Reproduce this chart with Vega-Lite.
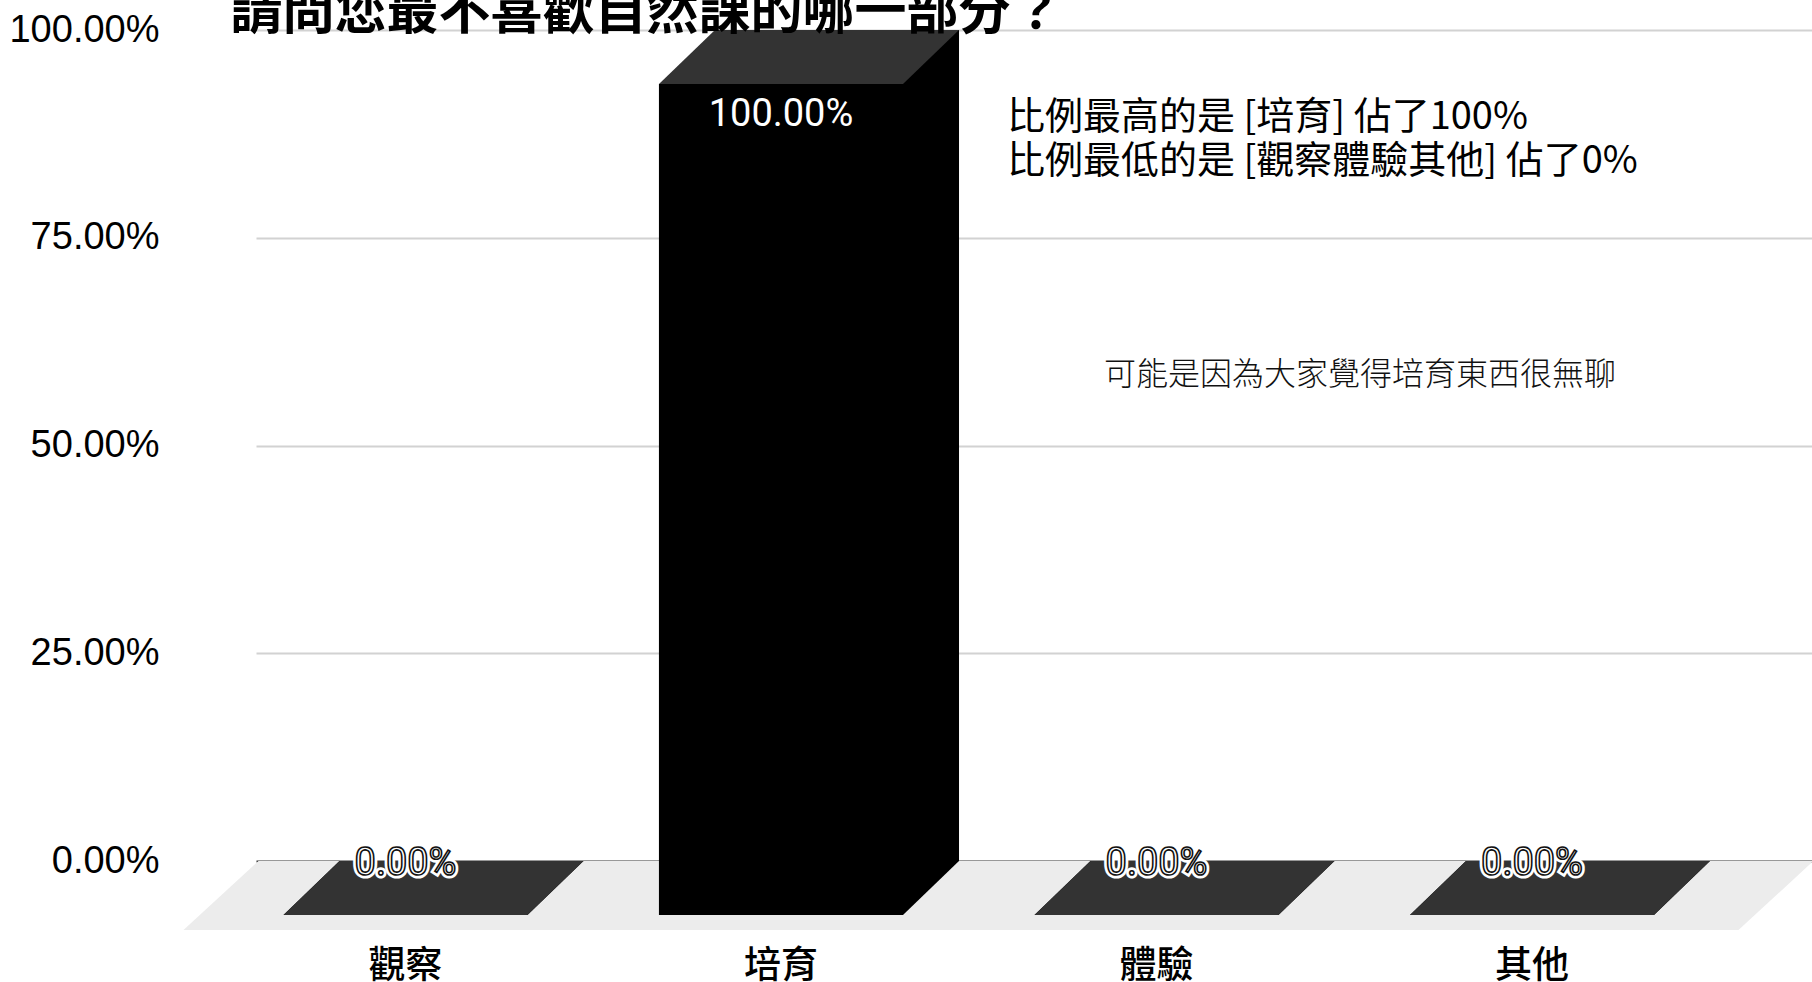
{
  "$schema": "https://vega.github.io/schema/vega-lite/v6.json",
  "width": 1556,
  "height": 831,
  "autosize": {"type": "none"},
  "padding": {"left": 256, "top": 30, "right": 0, "bottom": 121},
  "background": "white",
  "config": {"view": {"stroke": null}, "font": "Noto Sans CJK TC"},
  "datasets": {
    "bars": [
      {"cat": "觀察", "value": 0},
      {"cat": "培育", "value": 1},
      {"cat": "體驗", "value": 0},
      {"cat": "其他", "value": 0}
    ],
    "heading": [
      {"cat": "觀察", "value": 1, "note": "請問您最不喜歡自然課的哪一部分？"}
    ],
    "notes": [
      {"cat": "培育", "value": 0.894, "note": "比例最高的是 [培育] 佔了100%"},
      {"cat": "培育", "value": 0.841, "note": "比例最低的是 [觀察體驗其他] 佔了0%"}
    ],
    "comment": [
      {"cat": "培育", "value": 0.585, "note": "可能是因為大家覺得培育東西很無聊"}
    ]
  },
  "data": {"name": "bars"},
  "encoding": {
    "x": {
      "field": "cat",
      "type": "nominal",
      "sort": ["觀察", "培育", "體驗", "其他"],
      "scale": {"type": "band", "paddingInner": 0.35, "paddingOuter": 0.2469, "align": 0.45, "round": false},
      "axis": {
        "title": null,
        "labelAngle": 0,
        "labelFont": "Noto Sans CJK TC",
        "labelFontSize": 37,
        "labelFontWeight": 500,
        "labelColor": "#000",
        "labelBaseline": "middle",
        "labelPadding": 105,
        "labelOffset": -56,
        "ticks": false,
        "tickSize": 0,
        "domain": false,
        "grid": false
      }
    },
    "y": {
      "field": "value",
      "type": "quantitative",
      "scale": {"domain": [0, 1], "nice": false},
      "axis": {
        "title": null,
        "values": [0, 0.25, 0.5, 0.75, 1],
        "format": ".2%",
        "labelFont": "Liberation Sans",
        "labelFontSize": 38,
        "labelColor": "#000",
        "labelPadding": 97,
        "ticks": false,
        "tickSize": 0,
        "domain": false,
        "grid": true,
        "gridColor": {"condition": {"test": "datum.value === 0", "value": "#333333"}, "value": "#d2d2d2"},
        "gridWidth": 2
      }
    }
  },
  "layer": [
    {
      "transform": [{"filter": "datum.cat === '觀察'"}],
      "mark": {"type": "point", "shape": "M-203,0L1352,0L1277,69L-278,69Z", "size": 4, "filled": true, "fill": "#ececec", "color": "#ececec", "strokeWidth": 0, "opacity": 1},
      "encoding": {"y": {"datum": 0}}
    },
    {
      "mark": {"type": "bar", "color": "#000000"},
      "encoding": {}
    },
    {
      "mark": {"type": "point", "shape": "M-122,0L122,0L66,54L-178,54Z", "size": 4, "filled": true, "fill": "#000000", "color": "#000000", "strokeWidth": 0, "opacity": 1},
      "encoding": {"y": {"datum": 0}}
    },
    {
      "mark": {"type": "bar", "color": "#000000", "xOffset": -56, "x2Offset": -56, "yOffset": 54, "y2Offset": 54},
      "encoding": {}
    },
    {
      "mark": {"type": "point", "shape": "M-122,0L122,0L66,54L-178,54Z", "size": 4, "filled": true, "fill": "#333333", "color": "#333333", "strokeWidth": 0, "opacity": 1},
      "encoding": {}
    },
    {
      "transform": [{"filter": "datum.value > 0"}],
      "mark": {"type": "text", "font": "Roboto", "fontSize": 38, "fill": "#ffffff", "dx": -56, "dy": 85, "baseline": "middle", "align": "center"},
      "encoding": {"text": {"field": "value", "format": ".2%"}}
    },
    {
      "transform": [{"filter": "datum.value === 0"}],
      "mark": {"type": "text", "font": "Roboto", "fontSize": 38, "fill": "#ffffff", "stroke": "#ffffff", "strokeWidth": 7, "dx": -56, "dy": 3, "baseline": "middle", "align": "center"},
      "encoding": {"text": {"field": "value", "format": ".2%"}}
    },
    {
      "transform": [{"filter": "datum.value === 0"}],
      "mark": {"type": "text", "font": "Roboto", "fontSize": 38, "fill": "#ffffff", "stroke": "#111111", "strokeWidth": 1.6, "dx": -56, "dy": 3, "baseline": "middle", "align": "center"},
      "encoding": {"text": {"field": "value", "format": ".2%"}}
    },
    {
      "data": {"name": "heading"},
      "mark": {"type": "text", "font": "Noto Sans CJK TC", "fontSize": 52, "fontWeight": "bold", "fill": "#000000", "dx": -231, "dy": -1, "baseline": "alphabetic", "align": "left"},
      "encoding": {"text": {"field": "note"}}
    },
    {
      "data": {"name": "notes"},
      "mark": {"type": "text", "font": "Noto Sans CJK TC", "fontSize": 38, "fill": "#000000", "dx": 170, "baseline": "middle", "align": "left"},
      "encoding": {"text": {"field": "note"}}
    },
    {
      "data": {"name": "comment"},
      "mark": {"type": "text", "font": "Noto Sans CJK TC", "fontSize": 32, "fontWeight": 300, "fill": "#111111", "dx": 267, "baseline": "middle", "align": "left"},
      "encoding": {"text": {"field": "note"}}
    }
  ]
}
